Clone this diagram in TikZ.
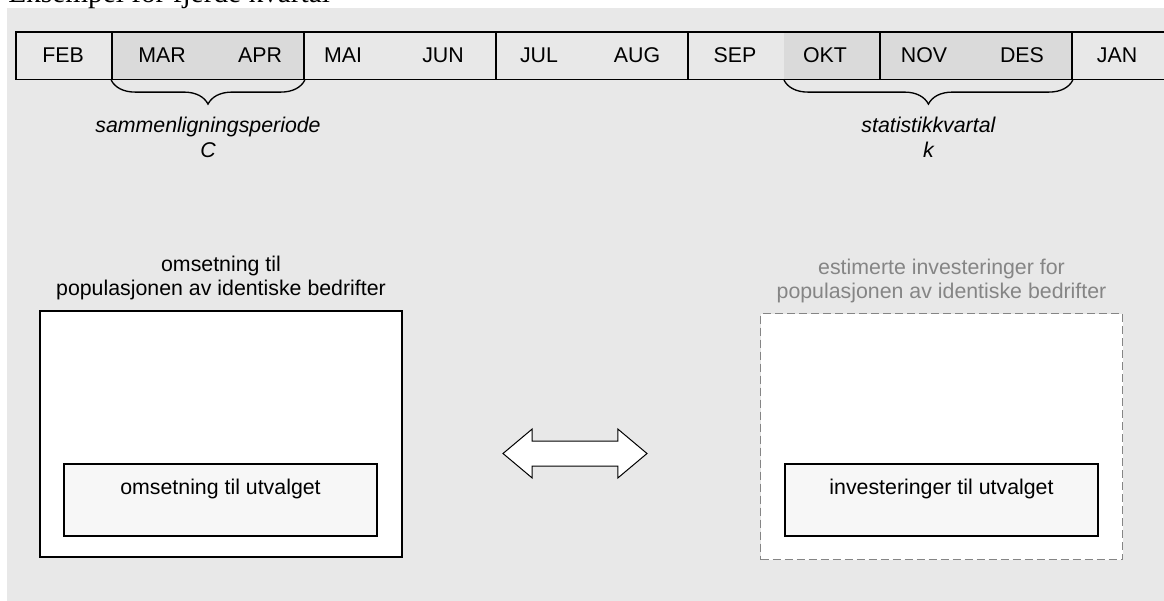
\documentclass[tikz,border=0pt]{standalone}
\usepackage{fontspec}
\setmainfont{Liberation Sans}
\newfontfamily\serifttl{Liberation Serif}
\usetikzlibrary{positioning, decorations.pathreplacing, shapes.arrows}
\definecolor{bggray}{HTML}{E8E8E8}
\definecolor{cellgray}{HTML}{DADADA}
\definecolor{boxfill}{HTML}{F7F7F7}
\definecolor{dimgray}{HTML}{858585}

\begin{document}
\begin{tikzpicture}[x = 0.75pt, y = -0.75pt,
  font = \fontsize{16}{18}\selectfont,
  cell/.style = {draw, line width = 1.2pt, minimum height = 35.7pt, inner sep = 0pt},
  month/.style = {anchor = base, inner sep = 0pt},
  period/.style = {decorate, decoration = {brace, mirror, amplitude = 18pt}, line width = 1pt},
  periodlabel/.style = {align = center, font = \fontsize{16}{18.75}\selectfont\itshape},
  popbox/.style = {minimum width = 271.5pt, minimum height = 184.5pt, fill = white, inner sep = 0pt},
  samplebox/.style = {draw, line width = 1.2pt, fill = boxfill, minimum width = 234.75pt,
    minimum height = 54pt, text height = 12pt, text depth = 21pt},
  poplabel/.style = {align = center}
]
\useasboundingbox (0,0) rectangle (1164,600);
\fill[bggray] (7,8) rectangle (1172,606);
\node[anchor = base west, inner sep = 0pt, font = \serifttl\fontsize{22}{26}\selectfont] (title) at (8,2) {Eksempel for fjerde kvartal};

\fill[cellgray] (784,32) rectangle (880,79);
\foreach \name/\cx/\w/\shade in {feb/64/96/none, marapr/208/192/cellgray, maijun/400/192/none,
    julaug/592/192/none, sepokt/784/192/none, novdes/976/192/cellgray, jan/1120/96/none}
   \node[cell, minimum width = \w*0.75pt, fill = \shade] (\name) at (\cx, 55.5) {};

\foreach \m/\cx in {FEB/63, MAR/162, APR/260, MAI/343, JUN/443, JUL/539,
    AUG/637, SEP/735, OKT/825, NOV/924, DES/1022, JAN/1117}
   \node[month] (m\m) at (\cx, 62) {\m};

\draw[period] (marapr.south west) -- (marapr.south east)
   node[midway, below = 24pt, periodlabel] (cmp) {sammenligningsperiode\\C};
\draw[period] (sepokt.south) -- (novdes.south east)
   node[midway, below = 24pt, periodlabel] (qrt) {statistikkvartal\\k};

\node[popbox, draw, line width = 1.2pt] (popL) at (221, 434) {};
\node[popbox, draw = dimgray, line width = 1.3pt, dash pattern = on 6pt off 3pt] (popR) at (941.5, 436.5) {};
\node[poplabel, above = 4pt of popL] (popLcap) {omsetning til\\populasjonen av identiske bedrifter};
\node[poplabel, above = 4pt of popR, text = dimgray] (popRcap) {estimerte investeringer for\\populasjonen av identiske bedrifter};

\node[samplebox] (smpL) at (220.5, 500) {omsetning til utvalget};
\node[samplebox] (smpR) at (941.5, 500) {investeringer til utvalget};

\node[double arrow, draw, fill = white, line width = 0.75pt, minimum height = 108pt, minimum width = 36pt,
   inner sep = 9pt, double arrow head extend = 9pt, double arrow tip angle = 80] (link) at (575, 453.5) {};
\end{tikzpicture}
\end{document}
